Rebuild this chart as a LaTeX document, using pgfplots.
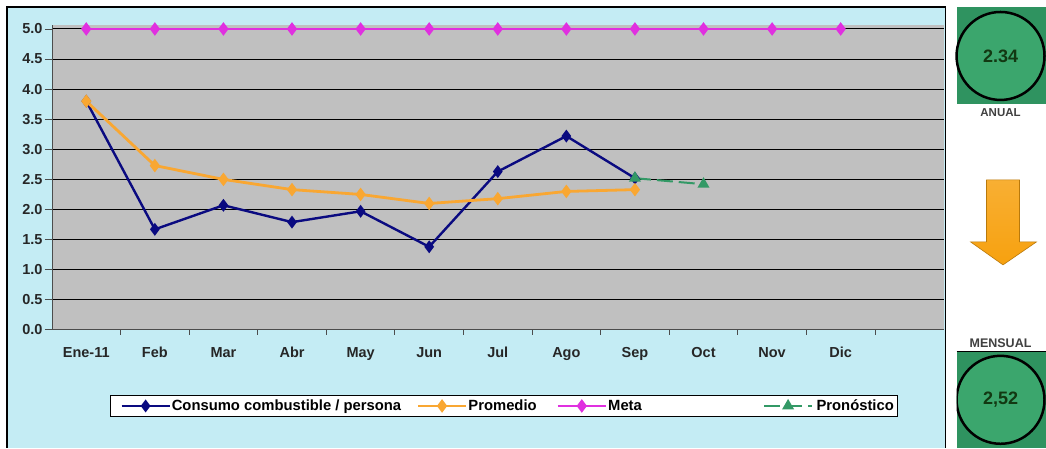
\documentclass[border=0pt]{standalone}
\usepackage{pgfplots}
\pgfplotsset{compat=1.18}
\usepackage{fontspec}
\setmainfont{Liberation Sans}
\definecolor{bgcyan}{HTML}{C4ECF4}
\definecolor{plotgray}{HTML}{C0C0C0}
\definecolor{navyc}{HTML}{0A0A80}
\definecolor{orangec}{HTML}{F9A732}
\definecolor{magentac}{HTML}{E030E0}
\definecolor{greenc}{HTML}{339966}
\definecolor{boxgreen}{HTML}{2F9360}
\definecolor{circgreen}{HTML}{3BA66D}
\definecolor{arroworange}{HTML}{F7A10F}
\definecolor{txtgreen}{HTML}{123812}
\begin{document}
\begin{tikzpicture}[x=1pt,y=1pt]
\fill[white] (0,0) rectangle (1046,448);
% chart area
\fill[bgcyan] (7,0) rectangle (946,441);
\draw[black, line width=1.5pt] (7,0) -- (7,441) -- (946,441) -- (946,0);
% right panel top
\fill[boxgreen] (957,344) rectangle (1046,441);
\filldraw[fill=circgreen, draw=black, line width=2.5pt] (1001,392) circle (44);
\node[text=txtgreen] at (1001,392) {\fontsize{18}{21}\selectfont\bfseries 2.34};
\node[text=black!75] at (1001,335) {\fontsize{11.5}{13}\selectfont\bfseries ANUAL};
% arrow
\shade[top color=arroworange!85!white, bottom color=arroworange]
  (987,268) -- (1020,268) -- (1020,206) -- (1037,206) -- (1003.5,183) -- (971,206) -- (987,206) -- cycle;
\draw[arroworange!75!black, line width=0.6pt]
  (987,268) -- (1020,268) -- (1020,206) -- (1037,206) -- (1003.5,183) -- (971,206) -- (987,206) -- cycle;
\node[text=black!75] at (1001,105) {\fontsize{12.5}{14}\selectfont\bfseries MENSUAL};
% right panel bottom
\fill[boxgreen] (957,0) rectangle (1046,96);
\draw[black, line width=1pt] (957,96) -- (1046,96);
\begin{scope}
\clip (957,0) rectangle (1046,96);
\filldraw[fill=circgreen, draw=black, line width=2.5pt] (1001,48) circle (44);
\end{scope}
\node[text=txtgreen] at (1001,48) {\fontsize{18}{21}\selectfont\bfseries 2,52};
\begin{axis}[
  at={(52pt,118pt)}, anchor=south west,
  scale only axis, width=892pt, height=305pt,
  xmin=-0.5, xmax=12.5, ymin=0, ymax=5.066,
  axis background/.style={fill=plotgray},
  axis x line*=bottom, axis y line*=left,
  axis line style={black!70, line width=0.8pt},
  xtick={0,...,11},
  xticklabels={Ene-11,Feb,Mar,Abr,May,Jun,Jul,Ago,Sep,Oct,Nov,Dic},
  major x tick style={draw=none},
  minor xtick={0.5,1.5,...,11.5},
  minor x tick style={black!70, line width=0.8pt},
  minor tick length=5pt,
  tick align=outside,
  ytick={0,0.5,...,5},
  major y tick style={black!70, line width=0.8pt},
  major tick length=7pt,
  ymajorgrids,
  grid style={black, line width=1pt},
  yticklabel style={/pgf/number format/fixed,/pgf/number format/fixed zerofill,/pgf/number format/precision=1, xshift=1pt},
  /pgf/number format/assume math mode=true,
  ticklabel style={font=\fontsize{14.5}{17}\selectfont\bfseries, text=black!85},
  xticklabel style={yshift=-7pt},
  legend columns=4,
  legend style={at={(axis description cs:0.065,-0.213)}, anchor=north west,
    draw=black, line width=1pt, fill=white, inner xsep=10pt, inner ysep=3.5pt,
    font=\fontsize{14.8}{17}\selectfont\bfseries,
    nodes={inner sep=1pt}},
  legend cell align=left,
  legend image code/.code={\draw[mark repeat=2,mark phase=2,#1] plot coordinates {(0pt,0pt) (24pt,0pt) (48pt,0pt)};},
]
\addplot[navyc, line width=2.4pt, mark=diamond*, mark size=4.5pt, mark options={solid,fill=navyc}]
 coordinates {(0,3.80) (1,1.67) (2,2.07) (3,1.79) (4,1.97) (5,1.38) (6,2.63) (7,3.22) (8,2.52)};
\addlegendentry{\makebox[244pt][l]{Consumo combustible / persona}}
\addplot[orangec, line width=2.8pt, mark=diamond*, mark size=4.5pt, mark options={solid,fill=orangec}]
 coordinates {(0,3.80) (1,2.73) (2,2.50) (3,2.33) (4,2.25) (5,2.10) (6,2.18) (7,2.30) (8,2.33)};
\addlegendentry{\makebox[87pt][l]{Promedio}}
\addplot[magentac, line width=2.8pt, mark=diamond*, mark size=4.5pt, mark options={solid,fill=magentac}]
 coordinates {(0,5) (1,5) (2,5) (3,5) (4,5) (5,5) (6,5) (7,5) (8,5) (9,5) (10,5) (11,5)};
\addlegendentry{\makebox[154pt][l]{Meta}}
\addplot[greenc, line width=2pt, dash pattern=on 16pt off 6pt, mark=triangle*, mark size=5pt, mark options={solid,fill=greenc}]
 coordinates {(8,2.52) (9,2.42)};
\addlegendentry{\makebox[72pt][l]{\,Pronóstico}}
\end{axis}
\end{tikzpicture}
\end{document}
